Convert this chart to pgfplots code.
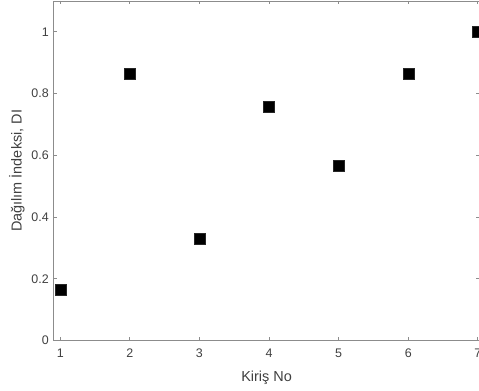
\documentclass[border=0pt]{standalone}
\usepackage{pgfplots}
\pgfplotsset{compat=1.18}
\usepackage{fontspec}
\setmainfont{Liberation Sans}
\definecolor{axgray}{gray}{0.55}
\definecolor{txtgray}{gray}{0.25}
\begin{document}
\begin{tikzpicture}
\begin{axis}[
  scale only axis,
  width=426.6bp, height=339.7bp,
  xmin=0.9, xmax=7.03,
  ymin=0, ymax=1.1,
  xtick={1,2,3,4,5,6,7},
  ytick={0,0.2,0.4,0.6,0.8,1},
  yticklabels={0,0.2,0.4,0.6,0.8,1},
  xticklabels={1,2,3,4,5,6,7},
  tick align=inside,
  major tick length=3.5bp,
  axis line style={axgray, line width=0.9bp},
  every tick/.style={axgray, line width=0.9bp},
  tick label style={font=\fontsize{12.5}{14}\selectfont, text=txtgray},
  label style={font=\fontsize{14.5}{16}\selectfont, text=txtgray},
  xlabel={Kiriş No},
  ylabel={Dağılım İndeksi, DI},
  xticklabel style={yshift=-5bp},
  yticklabel style={xshift=-1bp},
  xlabel style={yshift=-6bp},
  clip=false,
]
\addplot[only marks, mark=square*, mark size=5.5bp, mark options={fill=black, draw=black!85}]
  coordinates {(1,0.165) (2,0.864) (3,0.330) (4,0.758) (5,0.567) (6,0.864) (7,1.0)};
\end{axis}
\pgfresetboundingbox
\path[use as bounding box] (-53.3bp,-50.3bp) rectangle (425.7bp,340.7bp);
\end{tikzpicture}
\end{document}
